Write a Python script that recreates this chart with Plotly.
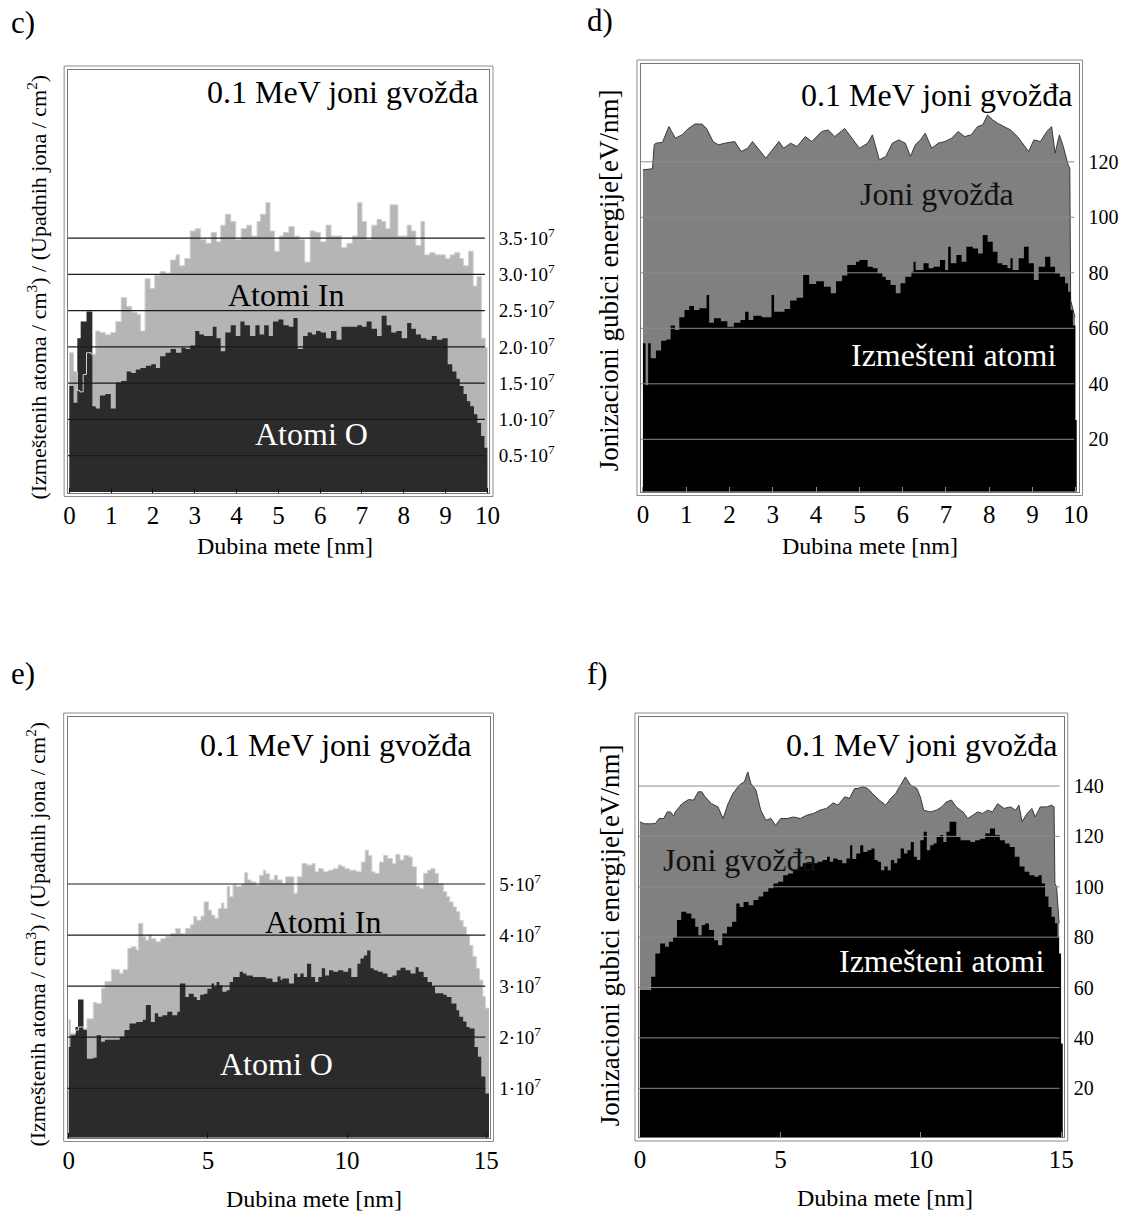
import plotly.graph_objects as go

FONT = "Liberation Serif"
W, H = 1132, 1214

# ---------------- c) 0.1 MeV Fe ions, 0-10 nm target ----------------
# displaced atoms, values in units of 1e7 (atoms/cm3)/(ions/cm2)
c_in_x = [0, 0.10, 0.19, 0.25, 0.33, 0.41, 0.52, 0.63, 0.73, 0.86, 0.99, 1.11, 1.24, 1.37, 1.49,
          1.62, 1.70, 1.81, 1.93, 2.04, 2.17, 2.30, 2.42, 2.55, 2.63, 2.76, 2.89, 3.01, 3.14, 3.27,
          3.39, 3.52, 3.62, 3.73, 3.86, 3.98, 4.11, 4.24, 4.36, 4.49, 4.57, 4.70, 4.80, 4.91, 5.02,
          5.12, 5.25, 5.38, 5.50, 5.63, 5.76, 5.88, 6.01, 6.14, 6.26, 6.39, 6.51, 6.64, 6.77, 6.89,
          7.00, 7.11, 7.23, 7.36, 7.47, 7.57, 7.67, 7.74, 7.86, 7.97, 8.08, 8.18, 8.29, 8.41, 8.50,
          8.62, 8.75, 8.88, 9.00, 9.11, 9.22, 9.34, 9.43, 9.55, 9.66, 9.75, 9.86, 9.95]
c_in_y = [1.92, 1.66, 1.40, 1.38, 1.62, 1.92, 1.90, 2.22, 2.20, 2.17, 2.20, 2.35, 2.68, 2.56, 2.48,
          2.45, 2.22, 2.94, 2.81, 2.99, 3.04, 3.02, 3.20, 3.27, 3.12, 3.22, 3.60, 3.63, 3.48, 3.43,
          3.58, 3.45, 3.68, 3.83, 3.73, 3.48, 3.63, 3.68, 3.53, 3.73, 3.83, 3.99, 3.60, 3.32, 3.53,
          3.58, 3.66, 3.53, 3.48, 3.17, 3.60, 3.58, 3.45, 3.68, 3.53, 3.53, 3.37, 3.43, 3.53, 3.99,
          3.73, 3.48, 3.68, 3.76, 3.73, 3.63, 3.96, 3.96, 3.53, 3.53, 3.68, 3.60, 3.40, 3.73, 3.27,
          3.30, 3.27, 3.27, 3.22, 3.27, 3.30, 3.22, 3.12, 3.32, 2.84, 2.97, 2.12, 1.99]
c_o_x = [0, 0.10, 0.19, 0.27, 0.41, 0.55, 0.63, 0.73, 0.86, 0.99, 1.11, 1.24, 1.37, 1.48, 1.59,
         1.70, 1.83, 1.96, 2.07, 2.17, 2.30, 2.42, 2.55, 2.68, 2.78, 2.89, 3.01, 3.11, 3.22, 3.35,
         3.43, 3.52, 3.62, 3.73, 3.86, 3.98, 4.09, 4.19, 4.32, 4.45, 4.55, 4.66, 4.77, 4.87, 5.00,
         5.12, 5.25, 5.36, 5.46, 5.59, 5.70, 5.80, 5.90, 6.01, 6.14, 6.26, 6.39, 6.51, 6.64, 6.77,
         6.89, 7.00, 7.11, 7.23, 7.36, 7.47, 7.59, 7.70, 7.82, 7.95, 8.08, 8.18, 8.29, 8.41, 8.54,
         8.67, 8.79, 8.92, 9.05, 9.16, 9.26, 9.34, 9.43, 9.51, 9.59, 9.68, 9.76, 9.85, 9.93]
c_o_y = [1.46, 1.23, 2.12, 2.35, 2.49, 1.18, 1.15, 1.33, 1.35, 1.15, 1.51, 1.53, 1.66, 1.64, 1.69,
         1.71, 1.74, 1.76, 1.71, 1.87, 1.92, 1.97, 1.92, 1.99, 1.97, 2.02, 2.22, 2.17, 2.15, 2.15,
         2.28, 2.12, 1.94, 2.20, 2.30, 2.15, 2.35, 2.30, 2.15, 2.30, 2.17, 2.30, 2.15, 2.35, 2.38,
         2.30, 2.28, 2.40, 1.97, 2.15, 2.20, 2.17, 2.22, 2.20, 2.12, 2.22, 2.10, 2.28, 2.28, 2.28,
         2.30, 2.28, 2.35, 2.25, 2.15, 2.43, 2.30, 2.20, 2.22, 2.12, 2.33, 2.25, 2.17, 2.12, 2.10,
         2.15, 2.10, 2.12, 1.76, 1.66, 1.56, 1.46, 1.35, 1.25, 1.18, 1.07, 0.95, 0.77, 0.61]
c_end = 10.0
c_ticks = [0.5, 1.0, 1.5, 2.0, 2.5, 3.0, 3.5]
c_ticktext = ["0.5·10<sup>7</sup>", "1.0·10<sup>7</sup>", "1.5·10<sup>7</sup>", "2.0·10<sup>7</sup>",
              "2.5·10<sup>7</sup>", "3.0·10<sup>7</sup>", "3.5·10<sup>7</sup>"]

# ---------------- d) ionization energy loss, 0-10 nm (eV/nm) ----------------
d_ion_x = [0.0, 0.22, 0.26, 0.29, 0.45, 0.60, 0.75, 0.90, 1.05, 1.20, 1.36, 1.47, 1.62, 1.74, 1.89,
           2.12, 2.27, 2.42, 2.53, 2.69, 2.84, 2.99, 3.14, 3.25, 3.41, 3.56, 3.75, 3.90, 4.13, 4.28,
           4.43, 4.66, 4.85, 5.00, 5.19, 5.30, 5.46, 5.61, 5.76, 5.91, 6.06, 6.18, 6.29, 6.41, 6.52,
           6.67, 6.82, 6.98, 7.13, 7.28, 7.43, 7.58, 7.73, 7.85, 7.96, 8.08, 8.19, 8.34, 8.49, 8.65,
           8.80, 8.91, 9.03, 9.18, 9.33, 9.44, 9.52, 9.62, 9.71, 9.82, 9.86, 9.88, 9.98]
d_ion_y = [117.1, 117.5, 126.1, 126.7, 127.0, 132.7, 128.5, 129.7, 132.0, 133.6, 133.6, 132.0, 127.3,
           126.1, 126.7, 127.3, 123.7, 124.9, 127.3, 124.3, 121.3, 124.3, 127.3, 124.9, 126.7, 125.5,
           129.1, 127.3, 130.9, 131.5, 129.1, 132.0, 127.9, 124.9, 126.7, 129.7, 120.7, 121.9, 126.7,
           127.9, 126.7, 121.9, 126.1, 127.9, 130.3, 124.9, 126.7, 127.3, 128.5, 130.9, 129.1, 129.7,
           132.7, 133.3, 136.9, 135.1, 133.9, 132.7, 131.5, 129.1, 126.1, 123.7, 127.9, 127.3, 130.9,
           132.7, 123.1, 129.7, 125.5, 118.9, 117.7, 70.0, 64.0]
d_rec_x = [0.0, 0.06, 0.12, 0.18, 0.30, 0.42, 0.54, 0.64, 0.74, 0.84, 0.96, 1.07, 1.18, 1.30, 1.47,
           1.53, 1.64, 1.80, 1.95, 2.10, 2.25, 2.36, 2.44, 2.55, 2.74, 2.97, 3.03, 3.27, 3.40, 3.55,
           3.70, 3.84, 4.00, 4.18, 4.34, 4.46, 4.60, 4.72, 4.92, 5.00, 5.19, 5.31, 5.42, 5.53, 5.61,
           5.72, 5.84, 5.95, 6.06, 6.20, 6.25, 6.30, 6.48, 6.60, 6.71, 6.86, 6.98, 7.05, 7.11, 7.24,
           7.36, 7.47, 7.62, 7.74, 7.85, 7.96, 8.08, 8.19, 8.30, 8.42, 8.49, 8.54, 8.68, 8.80, 8.91,
           9.03, 9.14, 9.29, 9.41, 9.52, 9.63, 9.75, 9.82, 9.88, 9.93, 9.99]
d_rec_y = [54.6, 39.6, 54.6, 49.2, 52.0, 55.5, 56.0, 61.0, 59.4, 64.0, 66.6, 68.0, 66.6, 67.2, 72.0,
           62.0, 63.6, 62.5, 60.6, 62.0, 63.0, 66.0, 63.0, 64.5, 64.0, 72.0, 66.0, 67.0, 70.0, 71.0,
           79.2, 76.0, 77.0, 75.0, 72.6, 77.0, 79.0, 82.8, 84.0, 84.6, 82.2, 81.6, 79.8, 78.6, 77.4,
           75.6, 72.6, 76.2, 78.6, 80.4, 84.0, 81.0, 83.4, 81.6, 82.2, 84.6, 81.0, 89.4, 83.4, 86.4,
           84.0, 89.4, 88.8, 87.0, 93.6, 91.2, 87.6, 83.4, 82.8, 81.6, 85.2, 81.0, 85.2, 89.4, 83.4,
           77.4, 82.2, 85.8, 82.2, 79.8, 78.6, 76.2, 73.2, 66.6, 61.0, 27.0]
d_end = 10.02
d_ticks = [20, 40, 60, 80, 100, 120]

# ---------------- e) 0.1 MeV Fe ions, 0-15 nm target ----------------
e_in_x = [0.0, 0.06, 0.24, 0.35, 0.53, 0.65, 0.88, 1.00, 1.18, 1.30, 1.53, 1.65, 1.83, 1.95, 2.12,
          2.24, 2.42, 2.50, 2.66, 2.77, 2.86, 2.97, 3.13, 3.30, 3.48, 3.66, 3.84, 4.01, 4.19, 4.37,
          4.49, 4.60, 4.75, 4.86, 5.02, 5.13, 5.25, 5.37, 5.49, 5.57, 5.69, 5.78, 5.90, 6.02, 6.20,
          6.32, 6.43, 6.55, 6.73, 6.85, 6.99, 7.08, 7.22, 7.38, 7.50, 7.67,
          7.79, 8.09, 8.21, 8.38, 8.56, 8.74, 8.85, 8.97, 9.15, 9.33, 9.50, 9.68, 9.80, 9.92, 10.09,
          10.33, 10.51, 10.65, 10.77, 10.89, 11.00, 11.16, 11.31, 11.45, 11.63, 11.75, 11.90, 12.04,
          12.22, 12.34, 12.49, 12.61, 12.75, 12.89, 13.01, 13.16, 13.28, 13.46, 13.58, 13.69, 13.81,
          13.93, 14.05, 14.17, 14.29, 14.40, 14.52, 14.64, 14.76, 14.88, 14.97]
e_in_y = [2.34, 2.08, 2.14, 2.20, 2.17, 2.36, 2.68, 2.66, 2.96, 3.09, 3.33, 3.32, 3.25, 3.32, 3.74,
          3.77, 3.71, 4.23, 3.97, 3.90, 4.00, 3.93, 3.87, 3.93, 3.98, 4.03, 4.13, 4.03, 4.13, 4.20,
          4.36, 4.29, 4.37, 4.65, 4.49, 4.39, 4.33, 4.52, 4.63, 4.52, 4.95, 4.75, 4.98, 4.95, 5.00,
          5.22, 5.08, 5.04, 4.98, 5.17, 5.27, 5.20, 5.08, 5.17, 5.08, 5.01,
          5.14, 4.82, 5.14, 5.40, 5.37, 5.40, 5.24, 5.30, 5.24, 5.27, 5.30, 5.37, 5.34, 5.30, 5.27,
          5.24, 5.43, 5.66, 5.56, 5.24, 5.21, 5.43, 5.56, 5.50, 5.40, 5.58, 5.47, 5.56,
          5.53, 5.34, 4.95, 4.91, 5.21, 5.27, 5.30, 5.21, 5.01, 4.85, 4.75, 4.65, 4.55,
          4.46, 4.29, 4.16, 4.00, 3.80, 3.58, 3.35, 3.12, 2.80, 2.57]
e_o_x = [0.0, 0.06, 0.24, 0.33, 0.53, 0.65, 0.88, 1.00, 1.16, 1.30, 1.83, 2.00, 2.18, 2.42, 2.66,
         2.77, 2.95, 3.09, 3.21, 3.36, 3.54, 3.72, 3.90, 3.99, 4.19, 4.31, 4.49, 4.60, 4.72, 4.86,
         4.98, 5.13, 5.22, 5.31, 5.41, 5.52, 5.67, 5.78, 5.90, 6.14, 6.26, 6.38, 6.61, 7.08, 7.32,
         7.50, 7.61, 7.67, 7.91, 8.09, 8.21, 8.32, 8.44, 8.56, 8.71, 8.85, 8.97, 9.09, 9.21, 9.35,
         9.50, 9.68, 9.86, 10.04, 10.15, 10.37, 10.48, 10.60, 10.72, 10.84, 10.96, 11.10, 11.28,
         11.45, 11.63, 11.78, 11.92, 12.10, 12.28, 12.46, 12.57, 12.75, 12.89, 13.05, 13.16, 13.46,
         13.58, 13.75, 13.93, 14.03, 14.17, 14.29, 14.40, 14.58, 14.70, 14.82, 14.97]
e_o_y = [1.81, 2.04, 2.20, 2.74, 2.14, 1.58, 1.60, 2.04, 1.91, 1.95, 2.01, 2.14, 2.27, 2.30, 2.34,
         2.63, 2.30, 2.47, 2.40, 2.43, 2.50, 2.43, 2.50, 3.05, 2.79, 2.85, 2.79, 2.73, 2.83, 2.85,
         2.95, 3.05, 2.99, 3.08, 3.02, 2.89, 2.92, 3.08, 3.18, 3.28, 3.25, 3.21, 3.18, 3.15, 3.08,
         3.19, 3.12, 3.15, 3.05, 3.25, 3.18, 3.25, 3.18, 3.44, 3.18, 3.08, 3.18, 3.35, 3.21, 3.31,
         3.28, 3.31, 3.28, 3.35, 3.18, 3.44, 3.54, 3.60, 3.70, 3.35, 3.31, 3.28, 3.25,
         3.18, 3.21, 3.31, 3.36, 3.31, 3.25, 3.37, 3.28, 3.18, 3.08, 2.99, 2.86, 2.83,
         2.79, 2.66, 2.53, 2.40, 2.31, 2.20, 2.17, 1.81, 1.62, 1.23, 0.90]
e_end = 15.1
e_ticks = [1, 2, 3, 4, 5]
e_ticktext = ["1·10<sup>7</sup>", "2·10<sup>7</sup>", "3·10<sup>7</sup>", "4·10<sup>7</sup>",
              "5·10<sup>7</sup>"]

# ---------------- f) ionization energy loss, 0-15 nm (eV/nm) ----------------
f_ion_x = [0.0, 0.15, 0.39, 0.55, 0.68, 0.85, 0.97, 1.09, 1.20, 1.26, 1.50, 1.73, 1.91, 2.08, 2.20,
           2.32, 2.55, 2.78, 2.96, 3.14, 3.31, 3.54, 3.72, 3.84, 3.95, 4.13, 4.30, 4.48, 4.66, 4.83,
           5.01, 5.24, 5.47, 5.71, 5.94, 6.18, 6.41, 6.64, 6.88, 7.05, 7.29, 7.46, 7.64, 7.76, 7.93,
           8.11, 8.28, 8.52, 8.75, 8.93, 9.10, 9.33, 9.45, 9.63, 9.86, 9.98, 10.10, 10.33, 10.56,
           10.74, 10.91, 11.09, 11.26, 11.50, 11.67, 11.85, 12.02, 12.20, 12.38, 12.55, 12.73, 12.96,
           13.19, 13.37, 13.49, 13.60, 13.78, 13.95, 14.07, 14.25, 14.48, 14.66, 14.74, 14.77, 14.83,
           14.92]
f_ion_y = [125.8, 125.0, 125.0, 125.1, 127.1, 127.1, 129.7, 129.7, 128.0, 129.7, 133.0, 134.6, 134.4,
           137.7, 137.7, 135.7, 133.0, 131.7, 127.1, 133.0, 137.0, 140.4, 141.7, 145.6, 141.0, 138.4,
           130.4, 126.4, 127.1, 124.4, 127.1, 127.1, 127.7, 127.1, 128.4, 129.1, 130.4, 131.1, 133.3,
           132.4, 135.7, 135.1, 139.0, 139.0, 139.7, 139.0, 137.0, 134.4, 132.4, 135.1, 137.0, 141.0,
           143.6, 140.4, 139.0, 135.7, 130.4, 129.7, 130.4, 131.7, 133.7, 134.4, 131.7, 129.7, 127.1,
           128.4, 129.7, 129.1, 130.4, 129.7, 133.0, 131.1, 131.7, 130.4, 132.4, 125.8, 129.1, 131.1,
           127.7, 131.7, 131.7, 132.4, 131.7, 101.3, 100.0, 85.5]
f_rec_x = [0.0, 0.40, 0.55, 0.72, 0.90, 1.03, 1.18, 1.32, 1.47, 1.65, 1.83, 1.97, 2.08, 2.20, 2.32,
           2.46, 2.64, 2.78, 2.93, 3.10, 3.28, 3.43, 3.55, 3.69, 3.87, 4.04, 4.22, 4.39, 4.57, 4.75,
           4.92, 5.10, 5.27, 5.45, 5.62, 5.80, 6.32, 6.50, 6.66, 6.76, 6.88, 7.03, 7.20, 7.35, 7.48,
           7.56, 7.70, 7.84, 7.95, 8.10, 8.24, 8.35, 8.46, 8.58, 8.70, 8.82, 8.93, 9.05, 9.16, 9.28,
           9.40, 9.52, 9.64, 9.75, 9.86, 9.98, 10.10, 10.21, 10.33, 10.45, 10.56, 10.68, 10.80, 10.91,
           11.02, 11.26, 11.41, 11.76, 11.93, 12.11, 12.29, 12.46, 12.64, 12.81, 12.99, 13.16, 13.34,
           13.51, 13.69, 13.86, 14.04, 14.19, 14.30, 14.42, 14.54, 14.65, 14.77, 14.86, 14.92, 14.99]
f_rec_y = [59.0, 64.3, 73.5, 77.5, 76.2, 78.2, 80.1, 86.8, 90.1, 89.4, 87.4, 84.1, 80.8, 84.8, 85.4,
           82.8, 78.8, 76.8, 81.4, 84.1, 86.1, 93.4, 92.0, 94.0, 92.7, 94.7, 96.1, 98.0, 99.4, 101.3,
           102.0, 104.6, 105.3, 106.6, 108.0, 109.3, 109.9, 110.6, 111.9, 109.9, 111.2, 110.6, 109.3,
           111.2, 116.5, 111.0, 113.2, 116.5, 113.8, 114.5, 115.2, 110.6, 109.9, 106.6, 108.0, 106.6,
           110.6, 109.3, 111.2, 115.2, 113.2, 114.5, 117.8, 111.9, 110.6, 118.5, 121.8, 114.5, 116.5,
           117.2, 119.8, 120.5, 117.8, 121.8, 125.8, 119.8, 118.5, 117.8, 118.5, 119.1, 121.1, 123.1,
           120.5, 118.5, 117.2, 115.8, 111.9, 108.0, 106.0, 104.6, 104.0, 104.6, 101.3, 96.1, 92.0,
           88.1, 85.5, 80.1, 73.5, 37.8]
f_end = 15.05
f_ticks = [20, 40, 60, 80, 100, 120, 140]

SCALE_E7 = 1e7

# ---------------- panel geometry (pixels on the page) ----------------
# inner frame box (left, top, right, bottom) and two reference points per axis
PANELS = {
    "c": dict(ax="", box=(64, 70, 491, 492.5),
              xcal=((0, 65.3), (10, 489.3)), ycal=((0, 491.9), (3.5e7, 238.2))),
    "d": dict(ax="2", box=(645, 64, 1089, 491.5),
              xcal=((1, 691.0), (9, 1042.3)), ycal=((20, 439.3), (60, 328.3))),
    "e": dict(ax="3", box=(63.5, 717, 491.5, 1137.5),
              xcal=((0, 64.7), (10, 347.0)), ycal=((1e7, 1088.3), (5e7, 884.0))),
    "f": dict(ax="4", box=(643, 717, 1074, 1137),
              xcal=((0, 644.0), (10, 929.0)), ycal=((20, 1088.3), (140, 786.0))),
}


def value_at(p, cal):
    (v1, p1), (v2, p2) = cal
    k = (p2 - p1) / (v2 - v1)
    return v1 + (p - p1) / k


def steps(xs, ys, end):
    return list(xs) + [end], list(ys) + [ys[-1]]


fig = go.Figure()


def area(name, xs, ys, color, ax, shape="hv", end=None):
    if end is not None:
        xs, ys = steps(xs, ys, end)
    fig.add_trace(go.Scatter(
        x=xs, y=ys, name=name, mode="lines",
        line=dict(shape=shape, width=0, color=color),
        fill="tozeroy", fillcolor=color,
        xaxis="x" + ax, yaxis="y" + ax, showlegend=False, hoverinfo="skip"))


def outline(xs, ys, color, ax, shape="hv", end=None, width=1):
    if end is not None:
        xs, ys = steps(xs, ys, end)
    fig.add_trace(go.Scatter(
        x=xs, y=ys, mode="lines", line=dict(shape=shape, width=width, color=color),
        xaxis="x" + ax, yaxis="y" + ax, showlegend=False, hoverinfo="skip"))


# c) indium and oxygen displacements
c_in = [v * SCALE_E7 for v in c_in_y]
c_o = [v * SCALE_E7 for v in c_o_y]
area("Atomi In", c_in_x, c_in, "#b5b5b5", "", end=c_end)
area("Atomi O", c_o_x, c_o, "#2b2b2b", "", end=c_end)
outline(c_in_x, c_in, "#d2d2d2", "", end=c_end)

# d) energy loss to ions vs recoils
area("Joni gvožđa", d_ion_x, d_ion_y, "#808080", "2", shape="linear")
outline(d_ion_x, d_ion_y, "#3a3a3a", "2", shape="linear")
area("Izmešteni atomi", d_rec_x, d_rec_y, "#000000", "2", end=d_end)

# e) indium and oxygen displacements, thicker target
e_in = [v * SCALE_E7 for v in e_in_y]
e_o = [v * SCALE_E7 for v in e_o_y]
area("Atomi In", e_in_x, e_in, "#b5b5b5", "3", end=e_end)
area("Atomi O", e_o_x, e_o, "#2b2b2b", "3", end=e_end)
outline(e_in_x, e_in, "#d2d2d2", "3", end=e_end)

# f) energy loss, thicker target
area("Joni gvožđa", f_ion_x, f_ion_y, "#808080", "4", shape="linear")
outline(f_ion_x, f_ion_y, "#3a3a3a", "4", shape="linear")
area("Izmešteni atomi", f_rec_x, f_rec_y, "#000000", "4", end=f_end)

AXIS_TICKS = {
    "c": dict(xt=list(range(0, 11)), yt=[v * SCALE_E7 for v in c_ticks], ytt=c_ticktext,
              grid="#1a1a1a", tick="#111111", ysize=19),
    "d": dict(xt=list(range(0, 11)), yt=d_ticks, ytt=[str(v) for v in d_ticks],
              grid="#8a8a8a", tick="#8a8a8a", ysize=20),
    "e": dict(xt=[0, 5, 10, 15], yt=[v * SCALE_E7 for v in e_ticks], ytt=e_ticktext,
              grid="#1a1a1a", tick="#111111", ysize=19),
    "f": dict(xt=[0, 5, 10, 15], yt=f_ticks, ytt=[str(v) for v in f_ticks],
              grid="#8a8a8a", tick="#8a8a8a", ysize=20),
}

layout = dict(width=W, height=H, margin=dict(l=0, r=0, t=0, b=0),
              paper_bgcolor="white", plot_bgcolor="rgba(0,0,0,0)",
              font=dict(family=FONT, color="black"), showlegend=False)
shapes = []
for key, p in PANELS.items():
    L, T, R, B = p["box"]
    ax = p["ax"]
    t = AXIS_TICKS[key]
    xr = [value_at(L, p["xcal"]), value_at(R, p["xcal"])]
    yr = [value_at(B, p["ycal"]), value_at(T, p["ycal"])]
    layout["xaxis" + ax] = dict(
        domain=[L / W, R / W], range=xr, anchor="y" + ax,
        tickmode="array", tickvals=t["xt"], ticktext=[str(v) for v in t["xt"]],
        ticks="inside", ticklen=5, tickcolor=t["tick"], tickwidth=1,
        showline=True, mirror=True, linecolor="#777777", linewidth=1,
        showgrid=False, zeroline=False, ticklabelstandoff=0,
        tickfont=dict(family=FONT, size=25, color="black"), fixedrange=True)
    layout["yaxis" + ax] = dict(
        domain=[1 - B / H, 1 - T / H], range=yr, anchor="x" + ax, side="right",
        tickmode="array", tickvals=t["yt"], ticktext=t["ytt"], ticks="",
        showline=True, mirror=True, linecolor="#777777", linewidth=1,
        showgrid=False, zeroline=False, ticklabelstandoff=5,
        tickfont=dict(family=FONT, size=t["ysize"], color="black"), fixedrange=True)
    # horizontal grid lines drawn over the filled areas
    for v in t["yt"]:
        shapes.append(dict(type="line", xref="x" + ax + " domain", yref="y" + ax,
                           x0=0, x1=0.99, y0=v, y1=v, layer="above",
                           line=dict(color=t["grid"], width=1.2 if key in "ce" else 1)))
    # outer line of the double frame
    g = 4
    shapes.append(dict(type="rect", xref="paper", yref="paper",
                       x0=(L - g) / W, x1=(R + g) / W, y0=1 - (B + g) / H, y1=1 - (T - g) / H,
                       line=dict(color="#8c8c8c", width=1), layer="above"))
layout["shapes"] = shapes


def note(text, x, y, size, color="black", xanchor="center", angle=0):
    return dict(text=text, x=x / W, y=1 - y / H, xref="paper", yref="paper",
                xanchor=xanchor, yanchor="middle", showarrow=False, textangle=angle,
                font=dict(family=FONT, size=size, color=color))


TITLE = "0.1 MeV joni gvožđa"
Y_ATOMS = "(Izmeštenih atoma / cm<sup>3</sup>) / (Upadnih jona / cm<sup>2</sup>)"
Y_LOSS = "Jonizacioni gubici energije[eV/nm]"
X_TITLE = "Dubina mete [nm]"

layout["annotations"] = [
    note("c)", 4, 22, 31, xanchor="left"), note("d)", 588, 20, 31, xanchor="left"),
    note("e)", 4, 674, 31, xanchor="left"), note("f)", 588, 673, 31, xanchor="left"),
    note(TITLE, 482, 92, 32, xanchor="right"),
    note("Atomi In", 285, 295, 32),
    note("Atomi O", 311, 434, 32, color="white"),
    note(TITLE, 1084, 95, 32, xanchor="right"),
    note("Joni gvožđa", 945, 194, 32, color="#111111"),
    note("Izmešteni atomi", 962, 355, 32, color="white"),
    note(TITLE, 475, 745, 32, xanchor="right"),
    note("Atomi In", 323, 922, 32),
    note("Atomi O", 275, 1064, 32, color="white"),
    note(TITLE, 1069, 745, 32, xanchor="right"),
    note("Joni gvožđa", 746, 860, 32, color="#111111"),
    note("Izmešteni atomi", 950, 961, 32, color="white"),
    note(X_TITLE, 284, 546, 24), note(X_TITLE, 877, 546, 24),
    note(X_TITLE, 313, 1199, 24), note(X_TITLE, 893, 1198, 24),
    note(Y_ATOMS, 32, 287, 22, angle=-90), note(Y_LOSS, 613, 280, 27, angle=-90),
    note(Y_ATOMS, 31, 934, 22, angle=-90), note(Y_LOSS, 614, 935, 27, angle=-90),
]

fig.update_layout(**layout)
fig.write_html("out.html")
